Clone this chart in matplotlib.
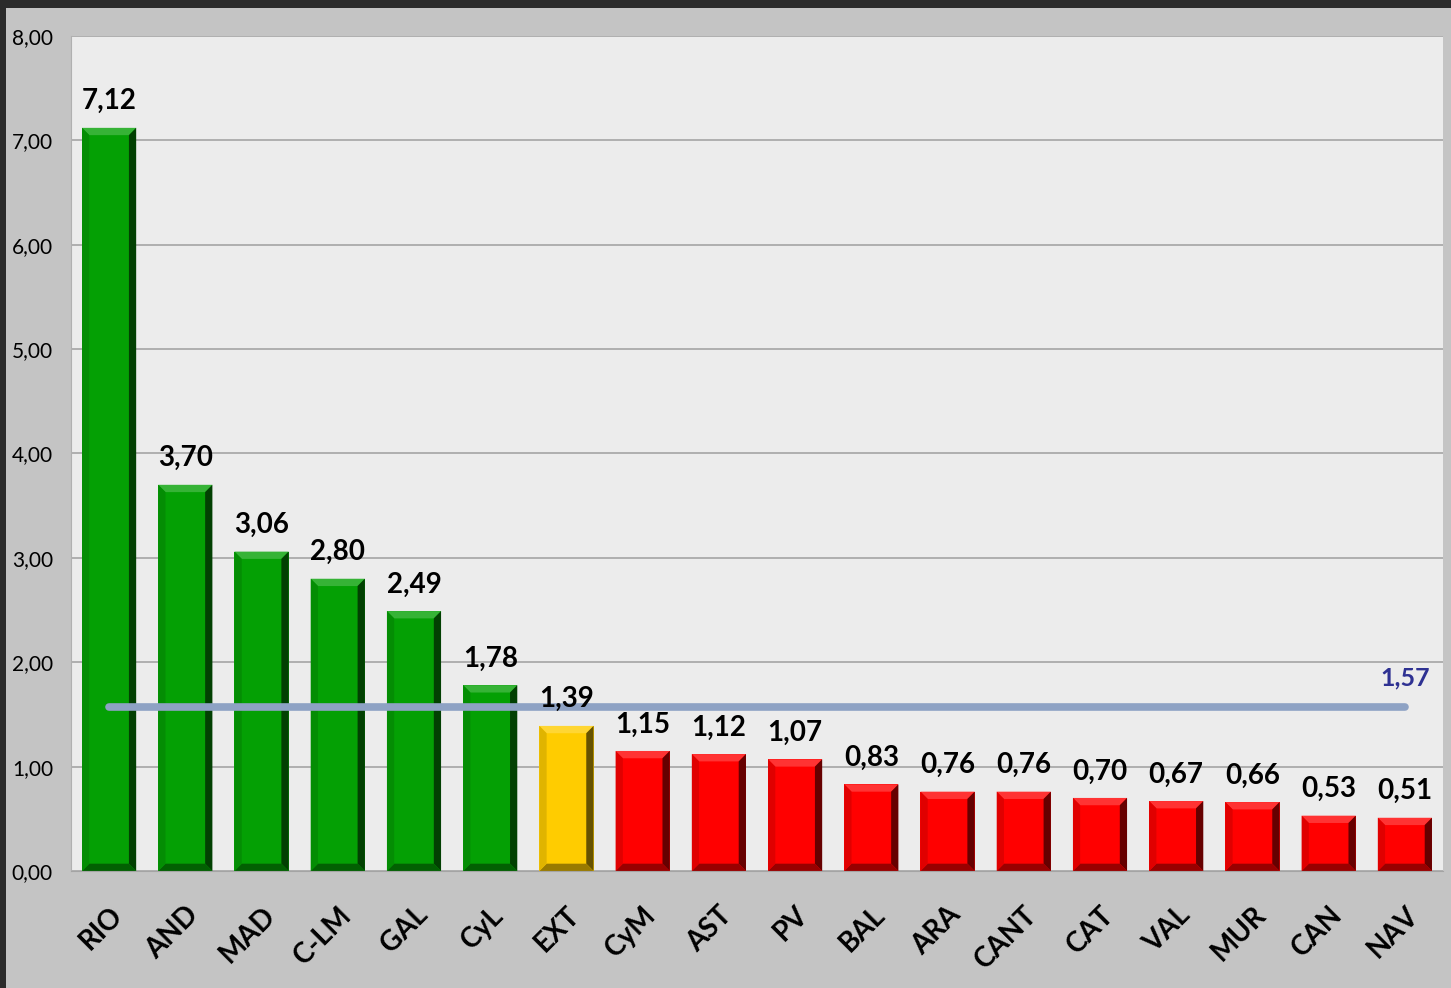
import matplotlib
matplotlib.use("Agg")
import matplotlib.pyplot as plt
from matplotlib.patches import Polygon, Rectangle
from matplotlib.colors import to_rgb
import numpy as np

regions = ["RIO", "AND", "MAD", "C-LM", "GAL", "CyL", "EXT", "CyM", "AST", "PV",
           "BAL", "ARA", "CANT", "CAT", "VAL", "MUR", "CAN", "NAV"]
values = [7.12, 3.70, 3.06, 2.80, 2.49, 1.78, 1.39, 1.15, 1.12, 1.07,
          0.83, 0.76, 0.76, 0.70, 0.67, 0.66, 0.53, 0.51]
average = 1.57
yticks = [0, 1, 2, 3, 4, 5, 6, 7, 8]

GREEN = "#04a004"
YELLOW = "#ffcc00"
RED = "#ff0000"


def bar_color(v):
    if v > average:
        return GREEN
    if v > 1.25:
        return YELLOW
    return RED


def fmt(v):
    return f"{v:.2f}".replace(".", ",")


def shade(c, f):
    r, g, b = to_rgb(c)
    if f < 1:
        return (r * f, g * f, b * f)
    f = f - 1
    return (r + (1 - r) * f, g + (1 - g) * f, b + (1 - b) * f)


plt.rcParams["font.family"] = ["Lato", "DejaVu Sans"]

fig = plt.figure(figsize=(14.51, 9.88), dpi=100)
fig.patch.set_facecolor("#c4c4c4")
# dark frame along the top and left edges
fig.add_artist(Rectangle((0, 1 - 8 / 988), 1, 8 / 988, transform=fig.transFigure,
                         facecolor="#2b2b2b", edgecolor="none"))
fig.add_artist(Rectangle((0, 0), 6 / 1451, 1, transform=fig.transFigure,
                         facecolor="#2b2b2b", edgecolor="none"))

ax = fig.add_axes([71 / 1451, 1 - 871 / 988, (1443 - 71) / 1451, (871 - 36) / 988])
ax.set_facecolor("#ececec")
ax.set_xlim(-0.5, len(regions) - 0.5)
ax.set_ylim(0, 8)
ax.set_yticks(yticks)
ax.set_yticklabels([fmt(t) for t in yticks], fontsize=15)
ax.yaxis.grid(True, color="#a4a4a4", linewidth=1.2)
ax.set_axisbelow(True)
ax.tick_params(axis="y", length=0, pad=13)
ax.tick_params(axis="x", length=0, pad=22)
for side in ["top", "right"]:
    ax.spines[side].set_visible(False)
ax.spines["left"].set_color("#b0b0b0")
ax.spines["bottom"].set_color("#a4a4a4")

x = np.arange(len(regions))
width = 0.71
colors = [bar_color(v) for v in values]
bars = ax.bar(x, values, width=width, color=colors, edgecolor="none", zorder=2, clip_on=False)

# bevel shading on each bar
bx = 0.095  # horizontal bevel in data units
by = 0.07   # vertical bevel in data units
for b, c in zip(bars, colors):
    x0, x1 = b.get_x(), b.get_x() + b.get_width()
    y0, y1 = 0, b.get_height()
    pieces = [
        ([(x0, y1), (x1, y1), (x1 - bx, y1 - by), (x0 + bx, y1 - by)], shade(c, 1.2)),
        ([(x1, y1), (x1, y0), (x1 - bx, y0 + by), (x1 - bx, y1 - by)], shade(c, 0.4)),
        ([(x0, y0), (x1, y0), (x1 - bx, y0 + by), (x0 + bx, y0 + by)], shade(c, 0.6)),
        ([(x0, y1), (x0, y0), (x0 + bx, y0 + by), (x0 + bx, y1 - by)], shade(c, 0.88)),
    ]
    for pts, col in pieces:
        ax.add_patch(Polygon(pts, closed=True, facecolor=col, edgecolor="none", zorder=2.5))
    ax.text(b.get_x() + b.get_width() / 2, y1 + 0.13, fmt(y1), ha="center", va="bottom",
            fontsize=20, fontweight="bold", color="black", zorder=4)

# average line
ax.plot([x[0], x[-1]], [average, average], color="#8ea2c4", linewidth=5.5,
        solid_capstyle="round", zorder=3)
ax.text(x[-1], average + 0.17, fmt(average), ha="center", va="bottom", fontsize=18,
        fontweight="bold", color="#2e3192", zorder=4)

ax.set_xticks(x)
ax.set_xticklabels(regions, rotation=45, ha="right", va="top", rotation_mode="anchor",
                   fontsize=20, fontweight="bold")

fig.savefig("out.png", dpi=100, facecolor=fig.get_facecolor())
